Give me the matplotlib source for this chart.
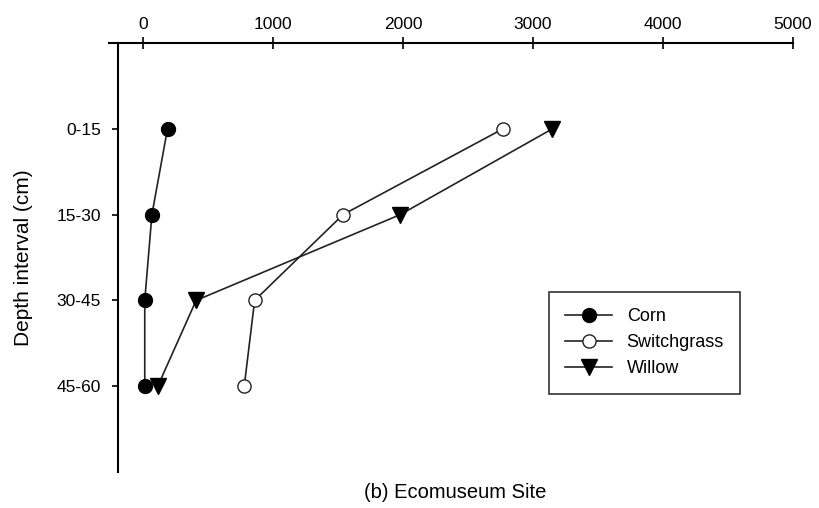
import matplotlib
matplotlib.use("Agg")
import matplotlib.pyplot as plt

plt.rcParams['font.family'] = ['Liberation Sans', 'DejaVu Sans']

depths = ["0-15", "15-30", "30-45", "45-60"]
depth_pos = [1, 2, 3, 4]
corn = [190, 70, 15, 15]
switchgrass = [2770, 1540, 860, 780]
willow = [3150, 1980, 410, 115]
x_ticks = [0, 1000, 2000, 3000, 4000, 5000]

fig = plt.figure(figsize=(8.19, 5.08), dpi=100)
ax = fig.add_axes([109/819, 1-472/508, (793-109)/819, (472-43)/508])

ax.spines['right'].set_visible(False)
ax.spines['bottom'].set_visible(False)
ax.spines['left'].set_position(('data', -192))
ax.spines['top'].set_linewidth(1.5)
ax.spines['left'].set_linewidth(1.5)

ax.plot(corn, depth_pos, color='#222222', lw=1.2, marker='o', ms=10,
        mfc='black', mec='black', label='Corn')
ax.plot(switchgrass, depth_pos, color='#222222', lw=1.2, marker='o', ms=9.5,
        mfc='white', mec='#222222', mew=1.0, label='Switchgrass')
ax.plot(willow, depth_pos, color='#222222', lw=1.2, marker='v', ms=11,
        mfc='black', mec='black', label='Willow')

ax.set_xlim(-260, 5000)
ax.set_ylim(5, 0)
ax.xaxis.tick_top()
ax.set_xticks(x_ticks)
ax.set_xticklabels([str(v) for v in x_ticks])
ax.set_yticks(depth_pos)
ax.set_yticklabels(depths)
ax.tick_params(axis='x', direction='inout', length=8, width=1.2, pad=4, labelsize=12.5)
ax.tick_params(axis='y', direction='out', length=4, width=1.2, pad=8, labelsize=12.5)

ax.set_ylabel("Depth interval (cm)", fontsize=15)
ax.yaxis.set_label_coords(-0.111, 0.5)
fig.text(455/819, 1-493/508, "(b) Ecomuseum Site", ha='center', va='center', fontsize=14.5)

leg = ax.legend(loc='upper left', bbox_to_anchor=(549/819, 1-292/508),
                bbox_transform=fig.transFigure, borderaxespad=0,
                frameon=True, fancybox=False, edgecolor='black', fontsize=13,
                handlelength=2.6, handletextpad=0.8, borderpad=0.9,
                labelspacing=0.5)
leg.get_frame().set_linewidth(1.2)

fig.savefig("out.png", dpi=100)
